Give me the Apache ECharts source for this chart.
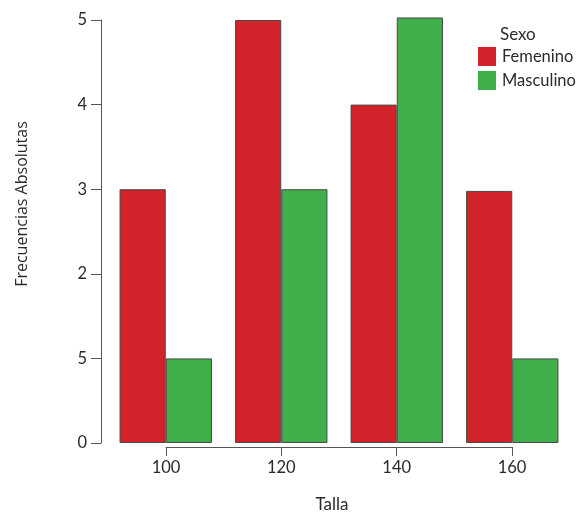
<!DOCTYPE html>
<html>
<head>
<meta charset="utf-8">
<script src="https://cdn.jsdelivr.net/npm/echarts@6/dist/echarts.min.js"></script>
<style>html,body{margin:0;padding:0;background:#fff}#c{width:584px;height:515px}</style>
</head>
<body>
<div id="c"></div>
<script>
var categories = ["100", "120", "140", "160"];
var femenino = [3, 5, 4, 2.98];
var masculino = [1, 3, 5.03, 1];
var yTickLabels = ["0", "5", "2", "3", "4", "5"];
var xTickValues = [100, 120, 140, 160];
var seriesNames = ["Femenino", "Masculino"];
var legendTitle = "Sexo";
var xTitle = "Talla";
var yTitle = "Frecuencias Absolutas";

var chart = echarts.init(document.getElementById('c'));
var tickFont = 'Lato';
var textColor = '#2b2b2b';
chart.setOption({
  animation: false,
  title: {
    text: legendTitle, left: 495, top: 21,
    textStyle: {fontFamily: tickFont, fontSize: 17, fontWeight: 'normal', color: textColor}
  },
  legend: {
    orient: 'vertical', left: 473, top: 42, itemWidth: 18, itemHeight: 19, itemGap: 5,
    icon: 'rect',
    itemStyle: {borderWidth: 0},
    textStyle: {fontFamily: tickFont, fontSize: 16.5, color: textColor, padding: [0, 0, 0, 1]},
    data: seriesNames
  },
  grid: [
    {left: 108, right: 14, top: 20, bottom: 72},
    {left: 166, width: 346, top: 20, bottom: 68}
  ],
  xAxis: [
    {gridIndex: 0, type: 'category', data: categories, show: false},
    {gridIndex: 1, type: 'value', min: xTickValues[0], max: xTickValues[xTickValues.length - 1], interval: 20,
      axisLine: {show: true, lineStyle: {color: '#555', width: 1}},
      axisTick: {show: true, length: 9, lineStyle: {color: '#555'}},
      splitLine: {show: false},
      axisLabel: {margin: 12, fontFamily: tickFont, fontSize: 16.5, color: textColor}
    }
  ],
  yAxis: [
    {gridIndex: 0, type: 'value', min: 0, max: 5, interval: 1, offset: 7,
      axisLine: {show: true, lineStyle: {color: '#555', width: 1}},
      axisTick: {show: true, length: 10, lineStyle: {color: '#555'}},
      splitLine: {show: false},
      axisLabel: {margin: 14, fontFamily: tickFont, fontSize: 16.5, color: textColor,
        formatter: function (v) { return yTickLabels[Math.round(v)]; }}
    },
    {gridIndex: 1, type: 'value', show: false}
  ],
  graphic: [
    {type: 'text', x: 22, y: 204, rotation: Math.PI / 2,
      style: {text: yTitle, fontFamily: 'Open Sans', fontSize: 16, fill: textColor, textAlign: 'center', textVerticalAlign: 'middle'}},
    {type: 'text', x: 332, y: 505,
      style: {text: xTitle, fontFamily: tickFont, fontSize: 17, fill: textColor, textAlign: 'center', textVerticalAlign: 'middle'}}
  ],
  series: [
    {name: seriesNames[0], type: 'bar', xAxisIndex: 0, yAxisIndex: 0, data: femenino,
      barGap: '0%', barCategoryGap: '20%', clip: false,
      itemStyle: {color: '#D2232A', borderColor: '#4a4a4a', borderWidth: 1}},
    {name: seriesNames[1], type: 'bar', xAxisIndex: 0, yAxisIndex: 0, data: masculino,
      barGap: '0%', barCategoryGap: '20%', clip: false,
      itemStyle: {color: '#40AE4A', borderColor: '#4a4a4a', borderWidth: 1}}
  ]
});
</script>
</body>
</html>
